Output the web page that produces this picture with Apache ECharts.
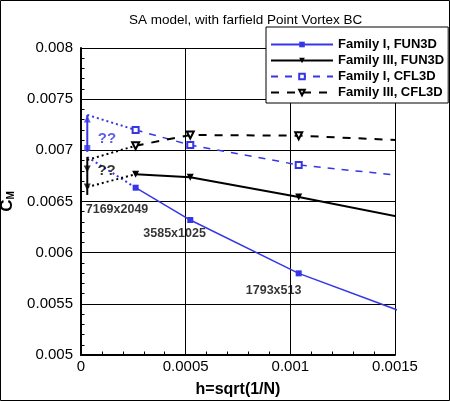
<!DOCTYPE html>
<html>
<head>
<meta charset="utf-8">
<script src="https://cdn.jsdelivr.net/npm/echarts@6/dist/echarts.min.js"></script>
<style>
html,body{margin:0;padding:0;background:#fff;}
#c{width:450px;height:401px;}
</style>
</head>
<body>
<div id="c"></div>
<script>
// ---- data ----
var hValues = [0.000261, 0.000522, 0.00104, 0.00209];
var fam1Fun3d = [0.006635, 0.006319, 0.005798, 0.005000];
var fam3Fun3d = [0.006766, 0.006736, 0.006544, 0.006120];
var fam1Cfl3d = [0.007199, 0.007052, 0.006857, 0.006633];
var fam3Cfl3d = [0.007045, 0.007150, 0.007143, 0.007047];
var seriesNames = ['Family I, FUN3D', 'Family III, FUN3D', 'Family I, CFL3D', 'Family III, CFL3D'];

// limit estimates near h = 0
var hZero = 0.00003;
var blueBar = [0.007346, 0.006985];
var blueMarks = [0.007306, 0.007023];
var blackBar = [0.006935, 0.006564];
var blackMarks = [0.006818, 0.006642];
var dotStartFam1Cfl = 0.007346;
var dotStartFam1Fun = 0.006935;
var dotStartFam3Cfl = 0.006906;
var dotStartFam3Fun = 0.006642;

// annotations
var gridLabels = ['7169x2049', '3585x1025', '1793x513'];
var gridLabelX = [0.000172, 0.000447, 0.000920];
var gridLabelY = [0.006417, 0.006183, 0.005625];
var qLabelX = [0.000124, 0.000122];
var qLabelY = [0.007111, 0.006798];

var xTicks = {min: 0, max: 0.0015, interval: 0.0005};
var yTicks = {min: 0.005, max: 0.008, interval: 0.0005};

var BLUE = '#3636e6';
var FONT = '"Liberation Sans", Arial, Helvetica, sans-serif';

function zip(xs, ys) { return xs.map(function (x, i) { return [x, ys[i]]; }); }

var chart = echarts.init(document.getElementById('c'), null, {renderer: 'canvas'});

function axisCommon() {
  return {
    axisLine: {show: true, lineStyle: {color: '#000', width: 2}},
    axisTick: {show: true, inside: true, length: 6, lineStyle: {color: '#000', width: 1}},
    minorTick: {show: true, splitNumber: 5, length: 3.5, lineStyle: {color: '#000', width: 1}},
    splitLine: {show: true, lineStyle: {color: '#000', width: 1}},
    axisLabel: {color: '#000', fontSize: 15, fontFamily: FONT}
  };
}

var xAxis = Object.assign(axisCommon(), {
  type: 'value', min: xTicks.min, max: xTicks.max, interval: xTicks.interval,
  name: 'h=sqrt(1/N)', nameLocation: 'middle', nameGap: 27,
  nameTextStyle: {color: '#000', fontSize: 16, fontWeight: 'bold', fontFamily: FONT}
});
xAxis.axisLabel.margin = 4;

var yAxis = Object.assign(axisCommon(), {
  type: 'value', min: yTicks.min, max: yTicks.max, interval: yTicks.interval,
  name: '{c|C}{m|M}', nameLocation: 'middle', nameGap: 64,
  nameTextStyle: {
    color: '#000', fontFamily: FONT,
    rich: {
      c: {fontSize: 17, fontWeight: 'bold', fontFamily: FONT, color: '#000'},
      m: {fontSize: 10, fontWeight: 'bold', fontFamily: FONT, color: '#000', padding: [8, 0, 0, 0]}
    }
  }
});
yAxis.axisLabel.margin = 8;

var series = [
  {
    name: seriesNames[0], type: 'line', data: zip(hValues, fam1Fun3d), clip: true,
    symbol: 'rect', symbolSize: 6,
    lineStyle: {color: BLUE, width: 1.5}, itemStyle: {color: BLUE}, z: 5
  },
  {
    name: seriesNames[1], type: 'line', data: zip(hValues, fam3Fun3d), clip: true,
    symbol: 'triangle', symbolRotate: 180, symbolSize: 7,
    lineStyle: {color: '#000', width: 2}, itemStyle: {color: '#000'}, z: 5
  },
  {
    name: seriesNames[2], type: 'line', data: zip(hValues, fam1Cfl3d), clip: true,
    symbol: 'emptyRect', symbolSize: 6,
    lineStyle: {color: BLUE, width: 1.5, type: [7, 7]},
    itemStyle: {color: BLUE, borderColor: BLUE, borderWidth: 1.5}, z: 5
  },
  {
    name: seriesNames[3], type: 'line', data: zip(hValues, fam3Cfl3d), clip: true,
    symbol: 'emptyTriangle', symbolRotate: 180, symbolSize: 7,
    lineStyle: {color: '#000', width: 2, type: [8, 8]},
    itemStyle: {color: '#000', borderColor: '#000', borderWidth: 1.5}, z: 5
  },
  // dotted connectors to limit estimates
  {type: 'line', data: [[hZero, dotStartFam1Cfl], [hValues[0], fam1Cfl3d[0]]], symbol: 'none',
   lineStyle: {color: BLUE, width: 2, type: [2, 3]}, silent: true, z: 3},
  {type: 'line', data: [[hZero, dotStartFam1Fun], [hValues[0], fam1Fun3d[0]]], symbol: 'none',
   lineStyle: {color: BLUE, width: 2, type: [2, 3]}, silent: true, z: 3},
  {type: 'line', data: [[hZero, dotStartFam3Cfl], [hValues[0], fam3Cfl3d[0]]], symbol: 'none',
   lineStyle: {color: '#000', width: 2, type: [2, 3]}, silent: true, z: 3},
  {type: 'line', data: [[hZero, dotStartFam3Fun], [hValues[0], fam3Fun3d[0]]], symbol: 'none',
   lineStyle: {color: '#000', width: 2, type: [2, 3]}, silent: true, z: 3},
  // vertical bars at h ~ 0
  {type: 'line', data: [[hZero, blueBar[0]], [hZero, blueBar[1]]], symbol: 'none',
   lineStyle: {color: BLUE, width: 2}, silent: true, z: 4},
  {type: 'line', data: [[hZero, blackBar[0]], [hZero, blackBar[1]]], symbol: 'none',
   lineStyle: {color: '#000', width: 2}, silent: true, z: 4},
  {type: 'scatter', data: [[hZero, blueMarks[0]]], symbol: 'triangle', symbolSize: 7,
   itemStyle: {color: BLUE}, silent: true, z: 6},
  {type: 'scatter', data: [[hZero, blueMarks[1]]], symbol: 'rect', symbolSize: 6,
   itemStyle: {color: BLUE}, silent: true, z: 6},
  {type: 'scatter', data: zip([hZero, hZero], blackMarks), symbol: 'triangle', symbolRotate: 180, symbolSize: 7,
   itemStyle: {color: '#000'}, silent: true, z: 6},
  // grid size labels
  {type: 'scatter', symbolSize: 0.1, itemStyle: {color: 'rgba(0,0,0,0)'}, silent: true, z: 7,
   data: gridLabels.map(function (t, i) { return {name: t, value: [gridLabelX[i], gridLabelY[i]]}; }),
   label: {show: true, position: 'inside', formatter: '{b}', color: '#000', fontSize: 12.5,
           fontWeight: 'bold', fontFamily: FONT}},
  // question marks
  {type: 'scatter', symbolSize: 0.1, itemStyle: {color: 'rgba(0,0,0,0)'}, silent: true, z: 7,
   data: [{name: '??', value: [qLabelX[0], qLabelY[0]], label: {color: BLUE}},
          {name: '??', value: [qLabelX[1], qLabelY[1]], label: {color: '#000'}}],
   label: {show: true, position: 'inside', formatter: '{b}', fontSize: 15,
           fontWeight: 'bold', fontFamily: FONT}}
];

chart.setOption({
  animation: false,
  backgroundColor: '#fff',
  title: {
    text: 'SA model, with farfield Point Vortex BC',
    left: 129, top: 13, padding: 0,
    textStyle: {color: '#000', fontSize: 13.5, fontWeight: 'normal', fontFamily: FONT}
  },
  legend: {
    data: seriesNames,
    orient: 'vertical', left: 266, top: 27,
    padding: [11, 4, 4, 4],
    itemWidth: 62, itemHeight: 7, itemGap: 3,
    backgroundColor: '#fff', borderColor: '#000', borderWidth: 1, borderRadius: 0,
    textStyle: {color: '#000', fontSize: 13, lineHeight: 12, fontWeight: 'bold', fontFamily: FONT},
    selectedMode: false, z: 10
  },
  grid: {left: 81, right: 55, top: 48, bottom: 46, containLabel: false, outerBoundsMode: 'none'},
  xAxis: xAxis,
  yAxis: yAxis,
  graphic: [{
    type: 'rect', shape: {x: 0.5, y: 0.5, width: 449, height: 400},
    style: {fill: null, stroke: '#000', lineWidth: 1}, silent: true, z: 100
  }],
  series: series
});
</script>
</body>
</html>
